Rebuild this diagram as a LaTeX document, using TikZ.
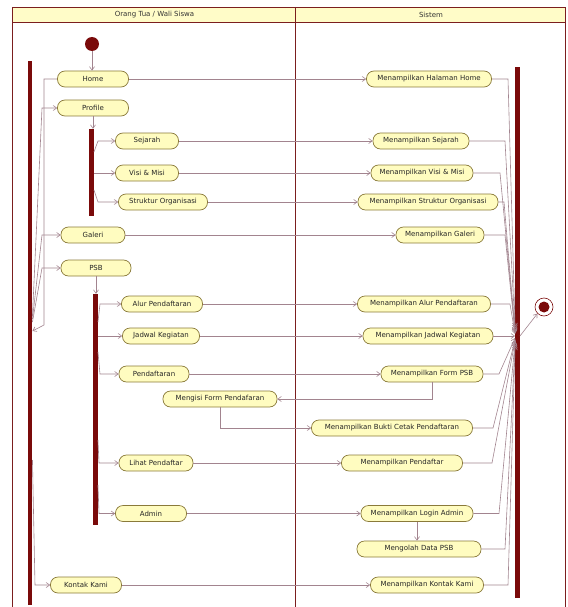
\documentclass[tikz,border=0pt]{standalone}
\usepackage{fontspec}
\setmainfont{DejaVu Sans}
\usepackage{tikz}
\usetikzlibrary{arrows.meta,positioning,calc}

\definecolor{actfill}{HTML}{FFFCC0}
\definecolor{actborder}{HTML}{8A7A3A}
\definecolor{flowline}{HTML}{A2848F}
\definecolor{barred}{HTML}{7A0A0A}
\definecolor{laneline}{HTML}{7B1E1E}
\definecolor{headfill}{HTML}{FFFCC8}

\begin{document}
\begin{tikzpicture}[
  x=1pt, y=-1pt,
  act/.style={rectangle, rounded corners=7.5pt, draw=actborder, fill=actfill, line width=0.7pt, minimum height=16pt, inner xsep=1.5pt, inner ysep=0pt, font=\fontsize{7}{8}\selectfont, text=black!85},
  bar/.style={rectangle, fill=barred, inner sep=0pt, minimum width=4.5pt},
  arrow/.style={-{Straight Barb[length=3.5pt,width=5pt]}, draw=flowline, line width=0.6pt},
  lane/.style={draw=laneline, line width=0.9pt},
  head/.style={font=\fontsize{7}{8}\selectfont, text=black!80}
]
\useasboundingbox (0,0) rectangle (567,607);

% swimlanes
\draw[lane, fill=headfill] (12,7) rectangle (565,22);
\draw[lane] (12,22) -- (12,607);
\draw[lane] (565,22) -- (565,607);
\draw[lane] (295,7) -- (295,607);
\node[head] (lane-ortu) at (154.5,14.5) {Orang Tua / Wali Siswa};
\node[head] (lane-sistem) at (431,14.5) {Sistem};

% start, bars, end
\node[circle, fill=barred, minimum size=14pt, inner sep=0pt] (start) at (92,44) {};
\node[bar, minimum height=544pt] (forkMain) at (30,333) {};
\node[bar, minimum height=87pt] (forkProfile) at (91.5,172.5) {};
\node[bar, minimum height=231pt] (forkPSB) at (95.5,409.5) {};
\node[bar, minimum height=531pt] (joinBar) at (517.5,332.5) {};
\node[circle, draw=barred, line width=0.6pt, fill=white, minimum size=18pt, inner sep=0pt] (final) at (544,307) {};
\fill[barred] (final.center) circle (5.5pt);

% Orang Tua / Wali Siswa
\node[act, minimum width=71pt] (home) at (93,79) {Home};
\node[act, minimum width=71pt] (profile) at (93,108) {Profile};
\node[act, minimum width=63pt] (sejarah) at (147,141) {Sejarah};
\node[act, minimum width=63pt] (visi) at (147,173) {Visi \& Misi};
\node[act, minimum width=89pt] (struktur) at (163,202) {Struktur Organisasi};
\node[act, minimum width=64pt] (galeri) at (93,235) {Galeri};
\node[act, minimum width=70pt] (psb) at (96,268) {PSB};
\node[act, minimum width=81pt] (alur) at (162,304) {Alur Pendaftaran};
\node[act, minimum width=77pt] (jadwal) at (161,336) {Jadwal Kegiatan};
\node[act, minimum width=70pt] (pendaftaran) at (154,374) {Pendaftaran};
\node[act, minimum width=114pt] (mengisi) at (220,399) {Mengisi Form Pendafaran};
\node[act, minimum width=74pt] (lihat) at (156,463) {Lihat Pendaftar};
\node[act, minimum width=71pt] (admin) at (151,513.5) {Admin};
\node[act, minimum width=71pt] (kontak) at (86,585) {Kontak Kami};

% Sistem
\node[act, minimum width=125pt] (mHome) at (429,79) {Menampilkan Halaman Home};
\node[act, minimum width=96pt] (mSejarah) at (421,141) {Menampilkan Sejarah};
\node[act, minimum width=102pt] (mVisi) at (422,173) {Menampilkan Visi \& Misi};
\node[act, minimum width=140pt] (mStruktur) at (428,202) {Menampilkan Struktur Organisasi};
\node[act, minimum width=88pt] (mGaleri) at (440,235) {Menampilkan Galeri};
\node[act, minimum width=133pt] (mAlur) at (424,304) {Menampilkan Alur Pendaftaran};
\node[act, minimum width=130pt] (mJadwal) at (428,336) {Menampilkan Jadwal Kegiatan};
\node[act, minimum width=102pt] (mForm) at (432,374) {Menampilkan Form PSB};
\node[act, minimum width=161pt] (mBukti) at (392,428) {Menampilkan Bukti Cetak Pendaftaran};
\node[act, minimum width=121pt] (mPendaftar) at (402,463) {Menampilkan Pendaftar};
\node[act, minimum width=112pt] (mLogin) at (417,513.5) {Menampilkan Login Admin};
\node[act, minimum width=124pt] (mOlah) at (419,549) {Mengolah Data PSB};
\node[act, minimum width=113pt] (mKontak) at (427,585) {Menampilkan Kontak Kami};

% flows in the left lane
\draw[arrow] (start) -- (start |- home.north);
\draw[arrow] (home.west) -- (44,79) -- (44,325) -- (forkMain.east |- 0,331);
\draw[arrow] (forkMain.east |- 0,316) -- (42,108) -- (profile.west);
\draw[arrow] (forkMain.east |- 0,319) -- (42,235) -- (galeri.west);
\draw[arrow] (forkMain.east |- 0,322) -- (42,268) -- (psb.west);
\draw[arrow] (forkMain.east |- 0,460) -- (35,585) -- (kontak.west);

\draw[arrow] (profile.south) -- (profile.south |- forkProfile.north);
\draw[arrow] (forkProfile.east |- 0,152) -- (98,141) -- (sejarah.west);
\draw[arrow] (forkProfile.east |- visi) -- (visi.west);
\draw[arrow] (forkProfile.east |- 0,190) -- (98,202) -- (struktur.west);

\draw[arrow] (psb.south) -- (psb.south |- forkPSB.north);
\draw[arrow] (forkPSB.east |- 0,322) -- (100,304) -- (alur.west);
\draw[arrow] (forkPSB.east |- jadwal) -- (jadwal.west);
\draw[arrow] (forkPSB.east |- 0,352) -- (100,374) -- (pendaftaran.west);
\draw[arrow] (forkPSB.east |- 0,440) -- (99,463) -- (lihat.west);
\draw[arrow] (forkPSB.east |- 0,485) -- (99,513.5) -- (admin.west);

% flows across the lanes
\draw[arrow] (home) -- (mHome);
\draw[arrow] (sejarah) -- (mSejarah);
\draw[arrow] (visi) -- (mVisi);
\draw[arrow] (struktur) -- (mStruktur);
\draw[arrow] (galeri) -- (mGaleri);
\draw[arrow] (alur) -- (mAlur);
\draw[arrow] (jadwal) -- (mJadwal);
\draw[arrow] (pendaftaran) -- (mForm);
\draw[arrow] (lihat) -- (mPendaftar);
\draw[arrow] (admin) -- (mLogin);
\draw[arrow] (kontak) -- (mKontak);

\draw[arrow] (mForm.south) |- (mengisi.east);
\draw[arrow] (mengisi.south) |- (mBukti.west);
\draw[arrow] (mLogin.south) -- (mLogin.south |- mOlah.north);

% into the join bar
\draw[arrow] (mHome.east) -- (508,79) -- (joinBar.west |- 0,327);
\draw[arrow] (mSejarah.east) -- (505,141) -- (joinBar.west |- 0,329);
\draw[arrow] (mVisi.east) -- (500,173) -- (joinBar.west |- 0,331);
\draw[arrow] (mStruktur.east) -- (504,202) -- (joinBar.west |- 0,332);
\draw[arrow] (mGaleri.east) -- (505,235) -- (joinBar.west |- 0,333);
\draw[arrow] (mAlur.east) -- (510,304) -- (joinBar.west |- 0,334);
\draw[arrow] (mJadwal) -- (joinBar.west |- mJadwal);
\draw[arrow] (mForm.east) -- (499,374) -- (joinBar.west |- 0,338);
\draw[arrow] (mBukti.east) -- (493,428) -- (joinBar.west |- 0,340);
\draw[arrow] (mPendaftar.east) -- (492,463) -- (joinBar.west |- 0,341);
\draw[arrow] (mLogin.east) -- (499,513.5) -- (joinBar.west |- 0,342);
\draw[arrow] (mOlah.east) -- (505,549) -- (joinBar.west |- 0,344);
\draw[arrow] (mKontak.east) -- (508,585) -- (joinBar.west |- 0,346);
\draw[arrow] (joinBar.east |- 0,336) -- (final.south west);

\end{tikzpicture}
\end{document}
